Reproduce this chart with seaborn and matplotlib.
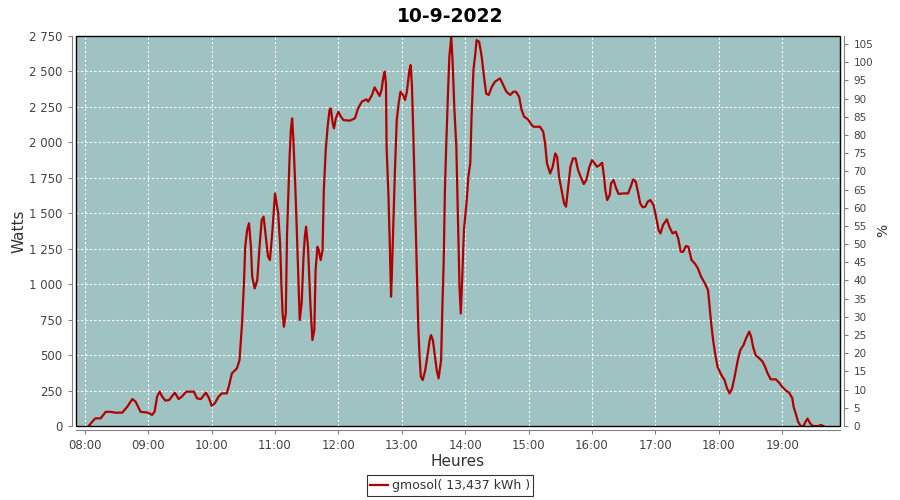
import numpy as np
import pandas as pd
import matplotlib
matplotlib.use("Agg")
import matplotlib.pyplot as plt
from matplotlib.patches import Rectangle
import seaborn as sns

# Production du 10-9-2022 (heure décimale, puissance en W)
heures = [
    8.06, 8.14, 8.17, 8.25, 8.33, 8.40, 8.48, 8.59, 8.67, 8.75, 8.80, 8.88, 8.96, 9.00,
    9.06, 9.10, 9.14, 9.18, 9.22, 9.27, 9.33, 9.42, 9.48, 9.53, 9.60, 9.72, 9.77, 9.83,
    9.91, 9.96, 10.00, 10.05, 10.11, 10.16, 10.24, 10.27, 10.32, 10.40, 10.44, 10.48,
    10.51, 10.53, 10.56, 10.59, 10.62, 10.64, 10.68, 10.72, 10.76, 10.79, 10.82, 10.85,
    10.89, 10.92, 10.96, 11.00, 11.05, 11.08, 11.10, 11.12, 11.14, 11.17, 11.19, 11.23,
    11.25, 11.27, 11.29, 11.32, 11.34, 11.37, 11.39, 11.42, 11.45, 11.47, 11.49, 11.52,
    11.54, 11.56, 11.59, 11.62, 11.64, 11.67, 11.69, 11.72, 11.75, 11.77, 11.80, 11.83,
    11.86, 11.88, 11.91, 11.93, 11.96, 12.00, 12.04, 12.08, 12.18, 12.26, 12.31, 12.37,
    12.44, 12.47, 12.53, 12.57, 12.61, 12.65, 12.68, 12.71, 12.73, 12.75, 12.76, 12.79,
    12.81, 12.83, 12.84, 12.87, 12.89, 12.92, 12.95, 12.98, 13.02, 13.05, 13.08, 13.12,
    13.14, 13.16, 13.18, 13.20, 13.22, 13.24, 13.26, 13.28, 13.30, 13.33, 13.37, 13.41,
    13.44, 13.46, 13.49, 13.52, 13.55, 13.58, 13.62, 13.64, 13.66, 13.68, 13.70, 13.73,
    13.75, 13.78, 13.80, 13.83, 13.86, 13.88, 13.91, 13.93, 13.95, 13.98, 14.02, 14.05,
    14.08, 14.10, 14.13, 14.16, 14.18, 14.22, 14.26, 14.29, 14.33, 14.37, 14.42, 14.47,
    14.55, 14.60, 14.65, 14.71, 14.76, 14.80, 14.85, 14.89, 14.93, 14.99, 15.05, 15.08,
    15.18, 15.23, 15.26, 15.29, 15.34, 15.38, 15.42, 15.45, 15.48, 15.52, 15.56, 15.59,
    15.62, 15.66, 15.70, 15.74, 15.78, 15.82, 15.87, 15.91, 15.96, 16.00, 16.04, 16.08,
    16.12, 16.16, 16.19, 16.21, 16.24, 16.28, 16.30, 16.34, 16.38, 16.42, 16.49, 16.57,
    16.61, 16.65, 16.69, 16.73, 16.76, 16.80, 16.84, 16.88, 16.92, 16.97, 17.01, 17.05,
    17.08, 17.12, 17.18, 17.22, 17.27, 17.32, 17.36, 17.40, 17.44, 17.48, 17.52, 17.57,
    17.62, 17.67, 17.72, 17.78, 17.83, 17.85, 17.88, 17.91, 17.95, 17.98, 18.04, 18.09,
    18.13, 18.17, 18.21, 18.25, 18.30, 18.34, 18.39, 18.43, 18.48, 18.51, 18.54, 18.58,
    18.64, 18.69, 18.73, 18.77, 18.82, 18.90, 18.95, 19.00, 19.06, 19.11, 19.16, 19.18,
    19.22, 19.25, 19.29, 19.34, 19.36, 19.40, 19.44, 19.48, 19.57, 19.61, 19.65,
]
watts = [
    0, 42, 54, 54, 100, 100, 94, 94, 136, 190, 172, 100, 96, 94,
    78, 100, 207, 242, 207, 179, 183, 235, 190, 207, 242, 242, 195, 190,
    235, 195, 143, 160, 207, 230, 230, 277, 371, 407, 465, 724,
    1006, 1264, 1382, 1429, 1264, 1053, 970, 1029, 1288, 1452, 1476, 1358,
    1194, 1170, 1382, 1640, 1499, 1288, 1006, 794, 700, 794, 1358, 1899,
    2087, 2169, 2016, 1687, 1429, 1006, 747, 865, 1194, 1335, 1405, 1264,
    1053, 841, 606, 677, 1100, 1264, 1241, 1170, 1241, 1664, 1946, 2110,
    2228, 2240, 2134, 2099, 2169, 2216, 2181, 2157, 2153, 2169, 2240, 2287,
    2303, 2287, 2334, 2388, 2357, 2327, 2369, 2463, 2498, 2416, 1969, 1617,
    1288, 912, 1029, 1476, 1781, 2157, 2275, 2357, 2334, 2298, 2357, 2510,
    2545, 2392, 2087, 1734, 1382, 1006, 700, 489, 348, 324, 395, 512,
    606, 641, 606, 500, 395, 336, 465, 841, 1147, 1664, 1969, 2369,
    2604, 2745, 2580, 2228, 1969, 1570, 982, 794, 1006, 1382, 1570, 1758,
    1852, 2181, 2510, 2627, 2721, 2709, 2604, 2486, 2345, 2334, 2392, 2428,
    2451, 2404, 2357, 2334, 2357, 2357, 2322, 2228, 2181, 2162, 2122, 2110,
    2110, 2075, 1993, 1852, 1781, 1828, 1922, 1899, 1758, 1664, 1570, 1546,
    1664, 1828, 1887, 1887, 1805, 1758, 1706, 1734, 1828, 1875, 1852, 1828,
    1840, 1856, 1758, 1664, 1593, 1629, 1711, 1734, 1676, 1636, 1640, 1640,
    1687, 1739, 1722, 1640, 1570, 1542, 1546, 1582, 1593, 1558, 1476, 1382,
    1358, 1417, 1457, 1405, 1358, 1370, 1323, 1229, 1229, 1269, 1264, 1170,
    1147, 1112, 1053, 1006, 959, 865, 724, 606, 489, 418, 360, 324,
    266, 230, 266, 348, 465, 536, 571, 618, 665, 630, 559, 500,
    477, 454, 418, 371, 329, 329, 306, 277, 249, 235, 195, 136,
    78, 31, 0, 0, 24, 52, 19, 0, 0, 7, 0,
]

titre = "10-9-2022"
nom_serie = "gmosol( 13,437 kWh )"
puissance_max = 2565  # W correspondant a 100 %

x_ticks = list(range(8, 20))
x_labels = [f"{h:02d}:00" for h in x_ticks]
y_ticks = list(range(0, 2751, 250))
y_labels = ["0", "250", "500", "750", "1 000", "1 250", "1 500", "1 750",
            "2 000", "2 250", "2 500", "2 750"]
pct_ticks = list(range(0, 106, 5))

df = pd.DataFrame({"heure": heures, "watts": watts})

plt.rcParams["font.family"] = ["DejaVu Sans"]
gris = "#808080"
texte = "#444444"

fig = plt.figure(figsize=(9, 5), dpi=100)
ax = fig.add_axes([0.0841, 0.148, 0.8496, 0.7806])
ax.set_facecolor("#9ec3c2")

sns.lineplot(data=df, x="heure", y="watts", ax=ax, color="#b20000",
             linewidth=1.6, label=nom_serie, legend=False)

ax.set_xlim(7.856, 19.917)
ax.set_ylim(0, 2752)
ax.set_xticks(x_ticks)
ax.set_xticklabels(x_labels)
ax.set_yticks(y_ticks)
ax.set_yticklabels(y_labels)
ax.grid(True, color="white", linestyle=(0, (2, 2)), linewidth=0.8)
ax.set_axisbelow(True)

ax.set_xlabel("Heures", fontsize=11, color="#333333", labelpad=1)
ax.set_ylabel("Watts", fontsize=11, color="#333333", labelpad=2)
ax.tick_params(axis="both", colors=gris, labelcolor=texte, labelsize=8.5,
               length=3, width=0.8)

for side in ["left", "bottom"]:
    ax.spines[side].set_position(("outward", 3))
    ax.spines[side].set_color(gris)
for side in ["top", "right"]:
    ax.spines[side].set_visible(False)

ax2 = ax.twinx()
ax2.set_ylim(0, 2752 / puissance_max * 100)
ax2.set_yticks(pct_ticks)
ax2.tick_params(axis="y", colors=gris, labelcolor=texte, labelsize=7.5,
                length=3, width=0.8)
ax2.set_ylabel("%", fontsize=10, color="#333333", labelpad=2)
for side in ["left", "top", "bottom"]:
    ax2.spines[side].set_visible(False)
ax2.spines["right"].set_position(("outward", 3))
ax2.spines["right"].set_color(gris)

# cadre noir autour de la zone de tracé
ax.add_patch(Rectangle((0, 0), 1, 1, transform=ax.transAxes, fill=False,
                       edgecolor="black", linewidth=1, clip_on=False, zorder=5))

fig.suptitle(titre, fontsize=13.5, fontweight="bold", y=0.985)

handles, labels = ax.get_legend_handles_labels()
leg = fig.legend(handles, labels, loc="lower center", bbox_to_anchor=(0.5, -0.004),
                 frameon=True, fancybox=False, edgecolor="black", fontsize=9,
                 handlelength=1.4, handletextpad=0.3, borderpad=0.3)
leg.get_frame().set_linewidth(0.8)
for t in leg.get_texts():
    t.set_color("#333333")

fig.savefig("out.png", dpi=100)
